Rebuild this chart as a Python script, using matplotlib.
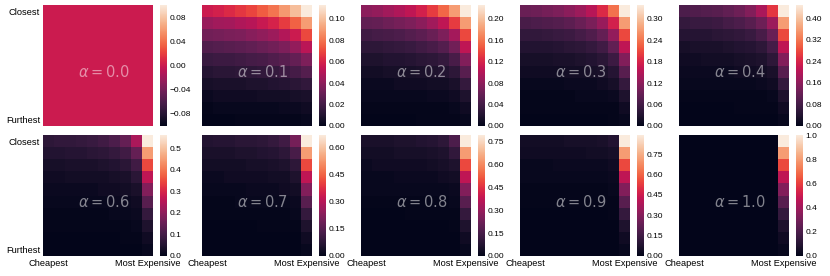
import numpy as np
import matplotlib
matplotlib.use("Agg")
import matplotlib.pyplot as plt
from matplotlib.ticker import MaxNLocator
import seaborn as sns

plt.rcParams['font.family'] = ['Liberation Sans', 'DejaVu Sans']

# alpha values shown in each panel
alphas = [0.0, 0.1, 0.2, 0.3, 0.4, 0.6, 0.7, 0.8, 0.9, 1.0]

# top value of each colorbar (value of the top-right cell)
peaks = [0.0, 0.113, 0.226, 0.339, 0.449, 0.562, 0.672, 0.79, 0.89, 1.0]

# cell values as percent of the panel peak
# rows: closest -> furthest, columns: cheapest -> most expensive
pct_00 = [[0] * 10 for _ in range(10)]

pct_01 = [
    [50, 52, 55, 58, 61, 66, 71, 79, 88, 100],
    [38, 40, 41, 43, 45, 49, 53, 59, 67, 80],
    [29, 30, 31, 32, 34, 36, 39, 44, 50, 62],
    [21, 22, 23, 24, 25, 27, 29, 32, 37, 46],
    [15, 16, 16, 17, 18, 19, 21, 23, 26, 32],
    [10, 11, 11, 12, 12, 13, 14, 16, 18, 22],
    [6, 7, 7, 7, 8, 8, 9, 10, 11, 13],
    [3, 4, 4, 4, 4, 5, 5, 5, 6, 7],
    [1, 2, 2, 2, 2, 2, 2, 3, 3, 4],
    [0, 0, 0, 1, 1, 1, 1, 1, 1, 2],
]

pct_02 = [
    [35, 37, 40, 43, 47, 52, 59, 68, 80, 100],
    [25, 26, 28, 30, 32, 35, 40, 47, 59, 80],
    [17, 18, 19, 20, 22, 24, 27, 32, 41, 62],
    [12, 12, 13, 14, 15, 17, 19, 22, 29, 47],
    [8, 8, 9, 9, 10, 11, 12, 14, 19, 33],
    [5, 5, 6, 6, 6, 7, 8, 9, 12, 23],
    [3, 3, 3, 4, 4, 4, 5, 5, 7, 14],
    [2, 2, 2, 2, 2, 2, 3, 3, 4, 8],
    [1, 1, 1, 1, 1, 1, 1, 1, 2, 4],
    [0, 0, 0, 0, 0, 1, 1, 1, 1, 2],
]

pct_03 = [
    [27, 28, 30, 32, 35, 39, 45, 55, 70, 100],
    [19, 20, 21, 22, 24, 27, 31, 38, 52, 80],
    [13, 13, 14, 15, 16, 18, 21, 26, 37, 62],
    [9, 9, 9, 10, 11, 12, 14, 17, 25, 47],
    [6, 6, 6, 7, 7, 8, 9, 11, 16, 33],
    [4, 4, 4, 4, 5, 5, 6, 7, 10, 23],
    [2, 2, 2, 2, 3, 3, 3, 4, 6, 14],
    [1, 1, 1, 1, 1, 2, 2, 2, 3, 8],
    [1, 1, 1, 1, 1, 1, 1, 1, 1, 4],
    [0, 0, 0, 0, 0, 0, 0, 0, 1, 2],
]

pct_04 = [
    [20, 21, 22, 23, 25, 28, 33, 42, 58, 100],
    [14, 15, 15, 16, 18, 20, 23, 28, 39, 80],
    [10, 10, 10, 11, 12, 13, 15, 19, 27, 62],
    [6, 7, 7, 7, 8, 9, 10, 12, 18, 47],
    [4, 4, 5, 5, 5, 6, 7, 8, 12, 33],
    [3, 3, 3, 3, 3, 4, 4, 5, 7, 23],
    [2, 2, 2, 2, 2, 2, 2, 3, 4, 14],
    [1, 1, 1, 1, 1, 1, 1, 1, 2, 8],
    [0, 0, 0, 0, 0, 1, 1, 1, 1, 4],
    [0, 0, 0, 0, 0, 0, 0, 0, 0, 2],
]

pct_06 = [
    [12, 13, 13, 14, 15, 17, 20, 26, 42, 100],
    [9, 9, 10, 10, 11, 12, 14, 17, 26, 80],
    [6, 6, 7, 7, 7, 8, 9, 11, 17, 62],
    [4, 4, 5, 5, 5, 5, 6, 7, 11, 47],
    [3, 3, 3, 3, 3, 4, 4, 5, 7, 33],
    [2, 2, 2, 2, 2, 2, 3, 3, 4, 23],
    [1, 1, 1, 1, 1, 1, 2, 2, 3, 14],
    [1, 1, 1, 1, 1, 1, 1, 1, 2, 8],
    [0, 0, 0, 0, 0, 0, 0, 1, 1, 4],
    [0, 0, 0, 0, 0, 0, 0, 0, 0, 2],
]

pct_07 = [
    [9, 10, 10, 11, 11, 12, 14, 17, 30, 100],
    [7, 7, 7, 8, 8, 9, 10, 12, 19, 80],
    [5, 5, 5, 5, 6, 6, 7, 8, 12, 62],
    [3, 3, 4, 4, 4, 4, 5, 5, 8, 47],
    [2, 2, 2, 2, 3, 3, 3, 4, 5, 33],
    [1, 1, 1, 2, 2, 2, 2, 2, 3, 23],
    [1, 1, 1, 1, 1, 1, 1, 1, 2, 14],
    [0, 0, 0, 0, 0, 1, 1, 1, 1, 8],
    [0, 0, 0, 0, 0, 0, 0, 0, 0, 4],
    [0, 0, 0, 0, 0, 0, 0, 0, 0, 2],
]

pct_08 = [
    [7, 7, 7, 8, 8, 9, 10, 12, 20, 100],
    [5, 5, 5, 6, 6, 6, 7, 8, 13, 80],
    [3, 4, 4, 4, 4, 4, 5, 6, 8, 62],
    [2, 2, 2, 3, 3, 3, 3, 4, 5, 47],
    [2, 2, 2, 2, 2, 2, 2, 2, 3, 33],
    [1, 1, 1, 1, 1, 1, 1, 1, 2, 23],
    [0, 0, 0, 0, 1, 1, 1, 1, 1, 14],
    [0, 0, 0, 0, 0, 0, 0, 0, 1, 8],
    [0, 0, 0, 0, 0, 0, 0, 0, 0, 4],
    [0, 0, 0, 0, 0, 0, 0, 0, 0, 2],
]

pct_09 = [
    [5, 5, 5, 5, 6, 6, 6, 7, 9, 100],
    [4, 4, 4, 4, 4, 4, 5, 5, 6, 80],
    [2, 2, 2, 3, 3, 3, 3, 3, 4, 62],
    [2, 2, 2, 2, 2, 2, 2, 2, 3, 47],
    [1, 1, 1, 1, 1, 1, 1, 1, 2, 33],
    [1, 1, 1, 1, 1, 1, 1, 1, 1, 23],
    [0, 0, 0, 0, 0, 0, 0, 0, 1, 14],
    [0, 0, 0, 0, 0, 0, 0, 0, 0, 8],
    [0, 0, 0, 0, 0, 0, 0, 0, 0, 4],
    [0, 0, 0, 0, 0, 0, 0, 0, 0, 2],
]

pct_10 = [
    [0, 0, 0, 0, 0, 0, 0, 0, 0, 100],
    [0, 0, 0, 0, 0, 0, 0, 0, 0, 80],
    [0, 0, 0, 0, 0, 0, 0, 0, 0, 62],
    [0, 0, 0, 0, 0, 0, 0, 0, 0, 47],
    [0, 0, 0, 0, 0, 0, 0, 0, 0, 33],
    [0, 0, 0, 0, 0, 0, 0, 0, 0, 23],
    [0, 0, 0, 0, 0, 0, 0, 0, 0, 14],
    [0, 0, 0, 0, 0, 0, 0, 0, 0, 8],
    [0, 0, 0, 0, 0, 0, 0, 0, 0, 4],
    [0, 0, 0, 0, 0, 0, 0, 0, 0, 2],
]

x_labels = ["Cheapest", "Most Expensive"]
y_labels = ["Closest", "Furthest"]

panels = [pct_00, pct_01, pct_02, pct_03, pct_04,
          pct_06, pct_07, pct_08, pct_09, pct_10]

# layout in pixels
W, H = 830, 276
col_x = [43, 202, 361, 520, 679]
row_y = [5, 135]
hm_w, hm_h = 110, 121
cb_gap, cb_w = 7, 7

fig = plt.figure(figsize=(W / 100, H / 100), dpi=100)

for k, (a, pk, pct) in enumerate(zip(alphas, peaks, panels)):
    r, c = divmod(k, 5)
    x0, y0 = col_x[c], row_y[r]
    ax = fig.add_axes([x0 / W, 1 - (y0 + hm_h) / H, hm_w / W, hm_h / H])
    cax = fig.add_axes([(x0 + hm_w + cb_gap) / W, 1 - (y0 + hm_h) / H,
                        cb_w / W, hm_h / H])
    data = np.array(pct, dtype=float) / 100.0 * pk
    sns.heatmap(data, ax=ax, cbar_ax=cax, cmap="rocket",
                xticklabels=False, yticklabels=False)
    cb = ax.collections[0].colorbar
    cb.set_ticks(MaxNLocator(nbins=6))
    cb.outline.set_visible(False)
    cax.tick_params(length=0, labelsize=6, pad=2)

    ax.text(5.5, 5.55, r"$\alpha = %.1f$" % a, ha="center", va="center",
            fontsize=10.5, color="white", alpha=0.5)

    ax.tick_params(length=0, labelsize=6.7, pad=2)
    if r == 1:
        ax.set_xticks([0.5, 9.5])
        ax.set_xticklabels(x_labels, rotation=0)
    else:
        ax.set_xticks([])
    if c == 0:
        ax.set_yticks([0.5, 9.5])
        ax.set_yticklabels(y_labels, rotation=0)
    else:
        ax.set_yticks([])

fig.savefig("out.png", dpi=100)
